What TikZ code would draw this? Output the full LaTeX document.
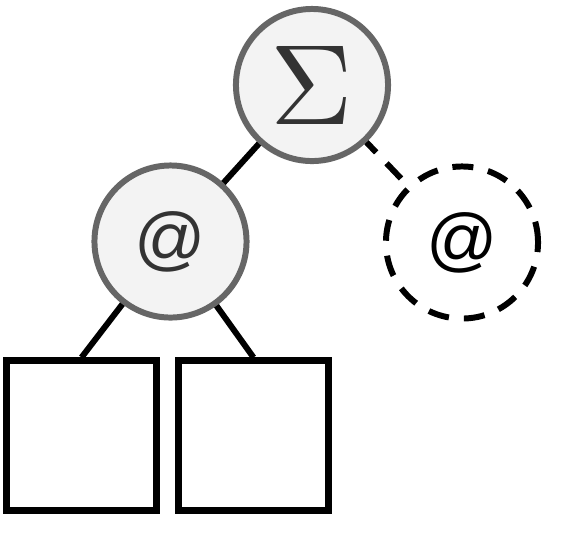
\documentclass[tikz,border=0pt]{standalone}
\usepackage{fontspec}
\usepackage{graphicx}
\newfontfamily\atfont{Liberation Sans}
\definecolor{nodefill}{HTML}{F3F3F3}
\definecolor{nodeborder}{HTML}{666666}
\definecolor{txt}{HTML}{333333}
\begin{document}
\begin{tikzpicture}[x=0.01cm,y=-0.01cm,
  opnode/.style={circle,draw=nodeborder,fill=nodefill,line width=1.7pt,minimum size=1.52cm,inner sep=0pt,text=txt},
  ghostnode/.style={circle,draw=black,fill=white,line width=1.7pt,minimum size=1.52cm,inner sep=0pt,dash pattern=on 0.21cm off 0.15cm},
  leafbox/.style={rectangle,draw=black,fill=white,line width=2pt,minimum width=1.49cm,minimum height=1.49cm,inner sep=0pt},
  edge/.style={draw=black,line width=1.7pt},
  ghostedge/.style={draw=black,line width=1.7pt,dash pattern=on 0.21cm off 0.15cm}]
\useasboundingbox (0,0) rectangle (581,541);
\coordinate (cs) at (312,85);
\coordinate (ca) at (170.5,241.5);
\coordinate (cg) at (462,242.5);
\coordinate (cl) at (81.5,435.5);
\coordinate (cr) at (253.5,435.5);
\node[leafbox] (l1) at (cl) {};
\node[leafbox] (l2) at (cr) {};
\path[edge] (cs) -- (ca);
\path[ghostedge] (cs) -- (cg);
\path[edge] (ca) -- (l1.north);
\path[edge] (ca) -- (l2.north);
\node[opnode] (sum) at (cs) {\resizebox{!}{0.78cm}{$\Sigma$}};
\node[opnode] (app) at (ca) {\atfont\fontsize{20}{24}\selectfont @};
\node[ghostnode] (ghost) at (cg) {\atfont\fontsize{20}{24}\selectfont @};
\end{tikzpicture}
\end{document}
